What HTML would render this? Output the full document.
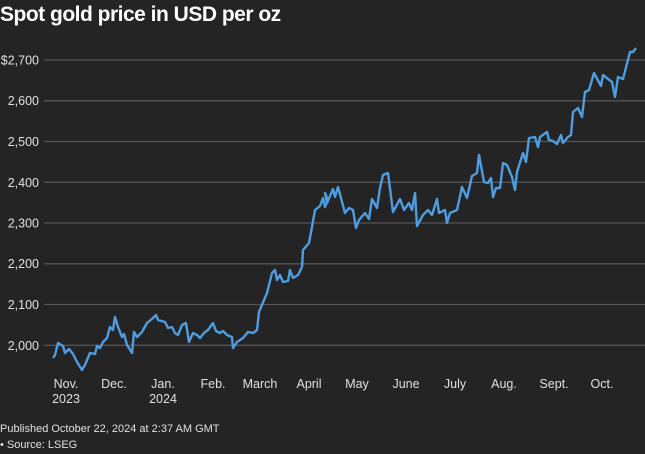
<!DOCTYPE html>
<html><head><style>
body{margin:0;background:#242424;width:645px;height:454px;overflow:hidden;font-family:"Liberation Sans",sans-serif;color:#e8e8e8}
</style></head><body>
<svg width="645" height="454" xmlns="http://www.w3.org/2000/svg" style="position:absolute;left:0;top:0">
<rect width="645" height="454" fill="#242424"/>
<text x="0" y="21" font-size="21" font-weight="bold" fill="#fff" letter-spacing="-0.5">Spot gold price in USD per oz</text>
<g stroke="#555" stroke-width="1.3">
<line x1="44" x2="645" y1="60" y2="60"/><line x1="44" x2="645" y1="100.8" y2="100.8"/>
<line x1="44" x2="645" y1="141.5" y2="141.5"/><line x1="44" x2="645" y1="182.3" y2="182.3"/>
<line x1="44" x2="645" y1="223" y2="223"/><line x1="44" x2="645" y1="263.8" y2="263.8"/>
<line x1="44" x2="645" y1="304.5" y2="304.5"/><line x1="44" x2="645" y1="345.3" y2="345.3"/>
</g>
<g font-size="12.5" fill="#e0e0e0" text-anchor="end">
<text x="39" y="64.5">$2,700</text><text x="39" y="105">2,600</text><text x="39" y="146">2,500</text>
<text x="39" y="187">2,400</text><text x="39" y="227.5">2,300</text><text x="39" y="268">2,200</text>
<text x="39" y="309">2,100</text><text x="39" y="350">2,000</text>
</g>
<g font-size="12.5" fill="#e0e0e0" text-anchor="middle">
<text x="66" y="388">Nov.</text><text x="66" y="403">2023</text>
<text x="114" y="388">Dec.</text>
<text x="163" y="388">Jan.</text><text x="163" y="403">2024</text>
<text x="213" y="388">Feb.</text>
<text x="260" y="388">March</text>
<text x="309" y="388">April</text>
<text x="357" y="388">May</text>
<text x="406" y="388">June</text>
<text x="455" y="388">July</text>
<text x="504" y="388">Aug.</text>
<text x="554" y="388">Sept.</text>
<text x="602" y="388">Oct.</text>
</g>
<polyline fill="none" stroke="#4d9de0" stroke-width="2.4" stroke-linejoin="round" points="53,358 55,355 58,343 63,346 65,353 69,349 73,354 77,362 82,370 85,365 87,360 90,353 95,354 97,346 100,348 103,342 107,338 110,327 113,330 115,317 118,327 122,337 124,334 127,345 132,353 134,332 137,337 142,332 147,323 153,318 156,315 158,320 165,322 168,328 172,327 175,333 178,335 182,325 186,323 189,342 193,333 197,335 200,338 204,333 208,330 213,323 216,331 220,333 223,331 227,335 232,337 233,348 237,342 243,338 248,332 253,333 257,330 259,312 267,293 272,273 275,270 277,280 280,275 283,282 288,281 290,270 293,278 298,275 302,267 303,250 309,243 312,227 315,210 320,206 323,198 325,207 328,200 325,193 327,203 333,189 335,197 338,187 345,213 349,208 353,210 356,228 359,220 365,213 369,219 372,199 377,208 380,188 383,175 388,173 393,212 400,199 404,210 409,203 412,210 415,193 417,226 423,215 428,210 432,215 437,199 439,213 445,210 447,223 450,213 457,210 462,187 467,198 472,176 477,173 479,155 484,182 488,183 491,178 493,197 496,188 500,188 503,163 507,165 512,177 515,190 517,172 523,153 526,162 529,138 535,137 538,147 540,137 547,132 549,140 553,141 557,144 561,135 563,143 568,137 571,135 573,112 578,108 582,117 585,92 589,90 594,73 601,86 603,75 612,82 615,97 618,77 623,79 630,52 633,52 636,48"/>
<g font-size="11" fill="#e0e0e0">
<text x="0" y="432">Published October 22, 2024 at 2:37 AM GMT</text>
<text x="0" y="448">• Source: LSEG</text>
</g>
</svg>
</body></html>
